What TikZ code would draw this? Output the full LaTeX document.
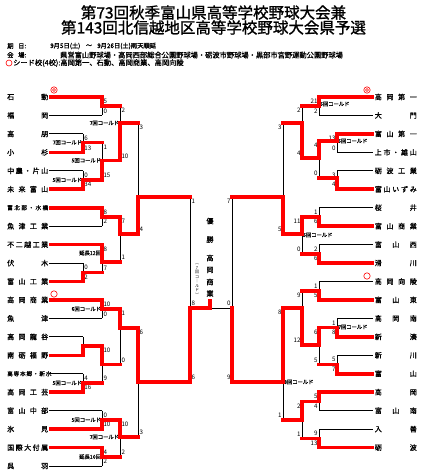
\documentclass[tikz,border=0pt]{standalone}
\usepackage{fontspec}
\setmainfont{Noto Sans CJK JP}
\newfontfamily\jpb{Noto Sans CJK JP}[FakeBold=1.2]
\newfontfamily\jph{Noto Sans CJK JP}[FakeBold=1.3]
\pgfdeclarelayer{top}
\pgfsetlayers{main,top}
\tikzset{
  lose/.style={line width=0.9pt, black},
  win/.style={line width=3.6pt, red, line cap=rect, line join=miter},
  team/.style={font=\jpb\fontsize{7}{7}\selectfont, inner sep=1pt},
  score/.style={font=\fontsize{6.2}{6.2}\selectfont, inner sep=0pt},
  cold/.style={font=\jpb\fontsize{5.3}{5.3}\selectfont, inner sep=0pt},
  title/.style={font=\jph\fontsize{15.5}{16}\selectfont, inner sep=0pt},
  info/.style={font=\jpb\fontsize{7.25}{8}\selectfont, inner sep=0pt, anchor=west},
  champ/.style={font=\jpb\fontsize{7}{7}\selectfont, inner sep=0pt},
  seed/.style={circle, draw=red, line width=0.6pt, minimum size=6.4pt, inner sep=0pt},
}
% x, y1, y2, exit y, next x, winner y, score 1, score 2
\newcommand\lmatch[8]{%
  \draw[lose] (#1,#2) -- (#1,#3);
  \begin{pgfonlayer}{top}\draw[win] (#1,#6) -- (#1,#4) -- (#5,#4);\end{pgfonlayer}
  \node[score,anchor=west] at (#1+1.3,#2+4.5) {#7};
  \node[score,anchor=west] at (#1+1.3,#3-4.5) {#8};
}
\newcommand\rmatch[8]{%
  \draw[lose] (#1,#2) -- (#1,#3);
  \begin{pgfonlayer}{top}\draw[win] (#1,#6) -- (#1,#4) -- (#5,#4);\end{pgfonlayer}
  \node[score,anchor=east] at (#1-1.3,#2+4.5) {#7};
  \node[score,anchor=east] at (#1-1.3,#3-4.5) {#8};
}
% name, label, y, column x, won
\newcommand\lteam[5]{%
  \node[team,anchor=west] (#1) at (6,#3) {\makebox[41pt][s]{#2}};
  \ifnum#5=1 \begin{pgfonlayer}{top}\draw[win] ([xshift=1.8pt]#1.east) -- (#4,#3);\end{pgfonlayer}
  \else \draw[lose] (#1.east) -- (#4,#3);\fi
}
\newcommand\rteam[5]{%
  \node[team,anchor=east] (#1) at (418,#3) {\makebox[42pt][s]{#2}};
  \ifnum#5=1 \begin{pgfonlayer}{top}\draw[win] ([xshift=-1.8pt]#1.west) -- (#4,#3);\end{pgfonlayer}
  \else \draw[lose] ([xshift=-1pt]#1.west) -- (#4,#3);\fi
}
\newcommand\smn{\fontsize{5.6}{6}\selectfont}
\begin{document}
\begin{tikzpicture}[x=1pt,y=-1pt]
  \useasboundingbox (0,0) rectangle (427,475);
  % heading
  \node[title] (t1) at (213.5,12.5) {第73回秋季富山県高等学校野球大会兼};
  \node[title] (t2) at (213.5,27.5) {第143回北信越地区高等学校野球大会県予選};
  \node[info,font=\jpb\fontsize{6.3}{7}\selectfont] (d1) at (7,46) {期};
  \node[info,font=\jpb\fontsize{6.3}{7}\selectfont] (d2) at (18,46) {日:};
  \node[info,font=\jpb\fontsize{6.3}{7}\selectfont] (d3) at (50,46) {9月5日(土)};
  \node[info,font=\jpb\fontsize{6.3}{7}\selectfont,anchor=center] (d4) at (89,46) {～};
  \node[info,font=\jpb\fontsize{6.3}{7}\selectfont] (d5) at (97,46) {9月26日(土)雨天順延};
  \node[info,font=\jpb\fontsize{6.3}{7}\selectfont] (v1) at (7,55) {会};
  \node[info,font=\jpb\fontsize{6.3}{7}\selectfont] (v2) at (18,55) {場:};
  \node[info] (v3) at (60,55) {県営富山野球場・高岡西部総合公園野球場・砺波市野球場・黒部市宮野運動公園野球場};
  \node[seed,minimum size=6pt] (s0) at (9,63) {};
  \node[info] (s1) at (13,63) {シード校(4校):高岡第一、石動、高岡商業、高岡向陵};

  % left teams
  \lteam{l0}{石 動}{97}{102}{1}
  \lteam{l1}{福 岡}{115.45}{102}{0}
  \lteam{l2}{高 朋}{133.9}{83}{0}
  \lteam{l3}{小 杉}{152.35}{83}{1}
  \lteam{l4}{中 農 ・ 片 山}{170.8}{83}{0}
  \lteam{l5}{未 来 富 山}{189.25}{83}{1}
  \lteam{l6}{\smn 富 北 部 ・ 水 橋}{207.7}{102}{1}
  \lteam{l7}{魚 津 工 業}{226.15}{102}{0}
  \lteam{l8}{不 二 越 工 業}{244.6}{102}{1}
  \lteam{l9}{伏 木}{263.05}{83}{0}
  \lteam{l10}{富 山 工 業}{281.5}{83}{1}
  \lteam{l11}{高 岡 商 業}{299.95}{102}{1}
  \lteam{l12}{魚 津}{318.4}{102}{0}
  \lteam{l13}{高 岡 龍 谷}{336.85}{83}{0}
  \lteam{l14}{南 砺 福 野}{355.3}{83}{1}
  \lteam{l15}{\smn 高 専 本 郷 ・ 新 水}{373.75}{83}{0}
  \lteam{l16}{高 岡 工 芸}{392.2}{83}{1}
  \lteam{l17}{富 山 中 部}{410.65}{102}{0}
  \lteam{l18}{氷 見}{429.1}{102}{1}
  \lteam{l19}{国 際 大 付 属}{447.55}{102}{1}
  \lteam{l20}{呉 羽}{466}{102}{0}

  % right teams
  \rteam{r0}{高 岡 第 一}{97}{319}{1}
  \rteam{r1}{大 門}{115.45}{319}{0}
  \rteam{r2}{富 山 第 一}{133.9}{337}{1}
  \rteam{r3}{上 市 ・ 雄 山}{152.35}{337}{0}
  \rteam{r4}{砺 波 工 業}{170.8}{337}{0}
  \rteam{r5}{富 山 い ず み}{189.25}{337}{1}
  \rteam{r6}{桜 井}{207.7}{319}{0}
  \rteam{r7}{富 山 商 業}{226.15}{319}{1}
  \rteam{r8}{富 山 西}{244.6}{319}{0}
  \rteam{r9}{滑 川}{263.05}{319}{1}
  \rteam{r10}{高 岡 向 陵}{281.5}{319}{0}
  \rteam{r11}{富 山 東}{299.95}{319}{1}
  \rteam{r12}{高 岡 南}{318.4}{337}{0}
  \rteam{r13}{新 湊}{336.85}{337}{1}
  \rteam{r14}{新 川}{355.3}{337}{0}
  \rteam{r15}{富 山}{373.75}{337}{1}
  \rteam{r16}{高 岡}{392.2}{319}{1}
  \rteam{r17}{富 山 南}{410.65}{319}{0}
  \rteam{r18}{入 善}{429.1}{319}{0}
  \rteam{r19}{砺 波}{447.55}{319}{1}

  % seeds
  \node[seed] (c1) at (54,90) {};
  \node[seed,minimum size=3pt] (c1i) at (c1) {};
  \node[seed] (c2) at (367,90) {};
  \node[seed,minimum size=3pt] (c2i) at (c2) {};
  \node[seed] (c3) at (54,294) {};
  \node[seed] (c4) at (367,276) {};

  % left bracket
  \lmatch{102}{97}{115.45}{106.2}{120}{97}{5}{0}
  \lmatch{83}{133.9}{152.35}{142.5}{102}{152.35}{6}{13}
  \lmatch{83}{170.8}{189.25}{180}{102}{189.25}{0}{34}
  \lmatch{102}{142.5}{180}{160.5}{120}{180}{1}{15}
  \lmatch{120}{106.2}{160.5}{123}{138}{160.5}{2}{10}
  \lmatch{102}{207.7}{226.15}{217}{120}{207.7}{8}{2}
  \lmatch{83}{263.05}{281.5}{272.3}{102}{281.5}{0}{2}
  \lmatch{102}{244.6}{272.3}{262}{120}{244.6}{8}{7}
  \lmatch{120}{217}{262}{234}{138}{217}{7}{1}
  \lmatch{138}{123}{234}{197}{190}{234}{3}{4}
  \lmatch{102}{299.95}{318.4}{309}{120}{299.95}{10}{0}
  \lmatch{83}{336.85}{355.3}{346}{102}{355.3}{}{}
  \lmatch{83}{373.75}{392.2}{383}{102}{392.2}{4}{16}
  \lmatch{102}{346}{383}{364.5}{120}{346}{10}{9}
  \lmatch{120}{309}{364.5}{328}{138}{309}{1}{0}
  \lmatch{102}{410.65}{429.1}{419.9}{120}{429.1}{0}{10}
  \lmatch{102}{447.55}{466}{456.8}{120}{447.55}{4}{2}
  \lmatch{120}{419.9}{456.8}{437}{138}{419.9}{10}{2}
  \lmatch{138}{328}{437}{382}{190}{328}{6}{3}
  \lmatch{190}{197}{382}{308}{210}{382}{1}{6}

  % right bracket
  \rmatch{319}{97}{115.45}{106.2}{302}{97}{21}{2}
  \rmatch{337}{133.9}{152.35}{141}{319}{133.9}{13}{0}
  \rmatch{337}{170.8}{189.25}{178}{319}{189.25}{3}{4}
  \rmatch{319}{141}{178}{158}{302}{141}{4}{0}
  \rmatch{302}{106.2}{158}{123}{283}{158}{2}{4}
  \rmatch{319}{207.7}{226.15}{217}{302}{226.15}{1}{6}
  \rmatch{319}{244.6}{263.05}{253.8}{302}{263.05}{2}{6}
  \rmatch{302}{217}{253.8}{234}{283}{217}{11}{0}
  \rmatch{283}{123}{234}{197}{232}{234}{3}{5}
  \rmatch{319}{281.5}{299.95}{290.7}{302}{299.95}{1}{5}
  \rmatch{337}{318.4}{336.85}{327.6}{319}{336.85}{1}{8}
  \rmatch{337}{355.3}{373.75}{364.5}{319}{373.75}{5}{7}
  \rmatch{319}{327.6}{364.5}{345}{302}{327.6}{6}{5}
  \rmatch{302}{290.7}{345}{308}{283}{345}{9}{12}
  \rmatch{319}{392.2}{410.65}{401.4}{302}{392.2}{5}{4}
  \rmatch{319}{429.1}{447.55}{438.3}{302}{447.55}{9}{13}
  \rmatch{302}{401.4}{438.3}{420}{283}{401.4}{2}{1}
  \rmatch{283}{308}{420}{382}{232}{308}{8}{1}

  % right semifinal and final
  \draw[lose] (232,197) -- (232,382);
  \draw[lose] (232,308) -- (210,308);
  \begin{pgfonlayer}{top}
    \draw[win] (232,382) -- (232,308);
    \draw[win] (210,308) -- (210,300.5);
  \end{pgfonlayer}
  \node[score,anchor=east] (f1) at (230.7,201.5) {7};
  \node[score,anchor=east] (f2) at (230.7,377.5) {9};
  \node[score,anchor=west] (f3) at (191.3,303.5) {8};
  \node[score,anchor=east] (f4) at (230.7,303.5) {0};

  % called games
  \node[cold,anchor=east] (k2) at (82.2,142.5) {7回コールド};
  \node[cold,anchor=east] (k3) at (82.2,180) {5回コールド};
  \node[cold,anchor=east] (k4) at (101.2,160.5) {5回コールド};
  \node[cold,anchor=east] (k5) at (119.2,123) {7回コールド};
  \node[cold,anchor=east] (k8) at (101.2,253) {延長12回};
  \node[cold,anchor=east] (k11) at (101.2,309) {6回コールド};
  \node[cold,anchor=east] (k13) at (82.2,383) {5回コールド};
  \node[cold,anchor=east] (k16) at (101.2,419.9) {5回コールド};
  \node[cold,anchor=east] (k17) at (101.2,456.8) {延長10回};
  \node[cold,anchor=east] (k18) at (119.2,437) {7回コールド};
  \node[cold,anchor=west] (ka) at (319.8,104) {5回コールド};
  \node[cold,anchor=west] (kb) at (337.8,141) {5回コールド};
  \node[cold,anchor=west] (kh) at (302.8,235) {5回コールド};
  \node[cold,anchor=west] (kk) at (337.8,327) {7回コールド};
  \node[cold,anchor=west] (kr) at (283.8,382) {8回コールド};

  % champion
  \node[champ] (w1) at (210,221) {優};
  \node[champ] (w2) at (210,239.5) {勝};
  \node[champ] (w3) at (210,258) {高};
  \node[champ] (w4) at (210,270) {岡};
  \node[champ] (w5) at (210,282) {商};
  \node[champ] (w6) at (210,293.5) {業};
  \node[cold,font=\fontsize{4}{4.5}\selectfont,align=center] (w7) at (197,280)
    {︵\\7\\回\\コ\\｜\\ル\\ド\\︶};
\end{tikzpicture}
\end{document}
